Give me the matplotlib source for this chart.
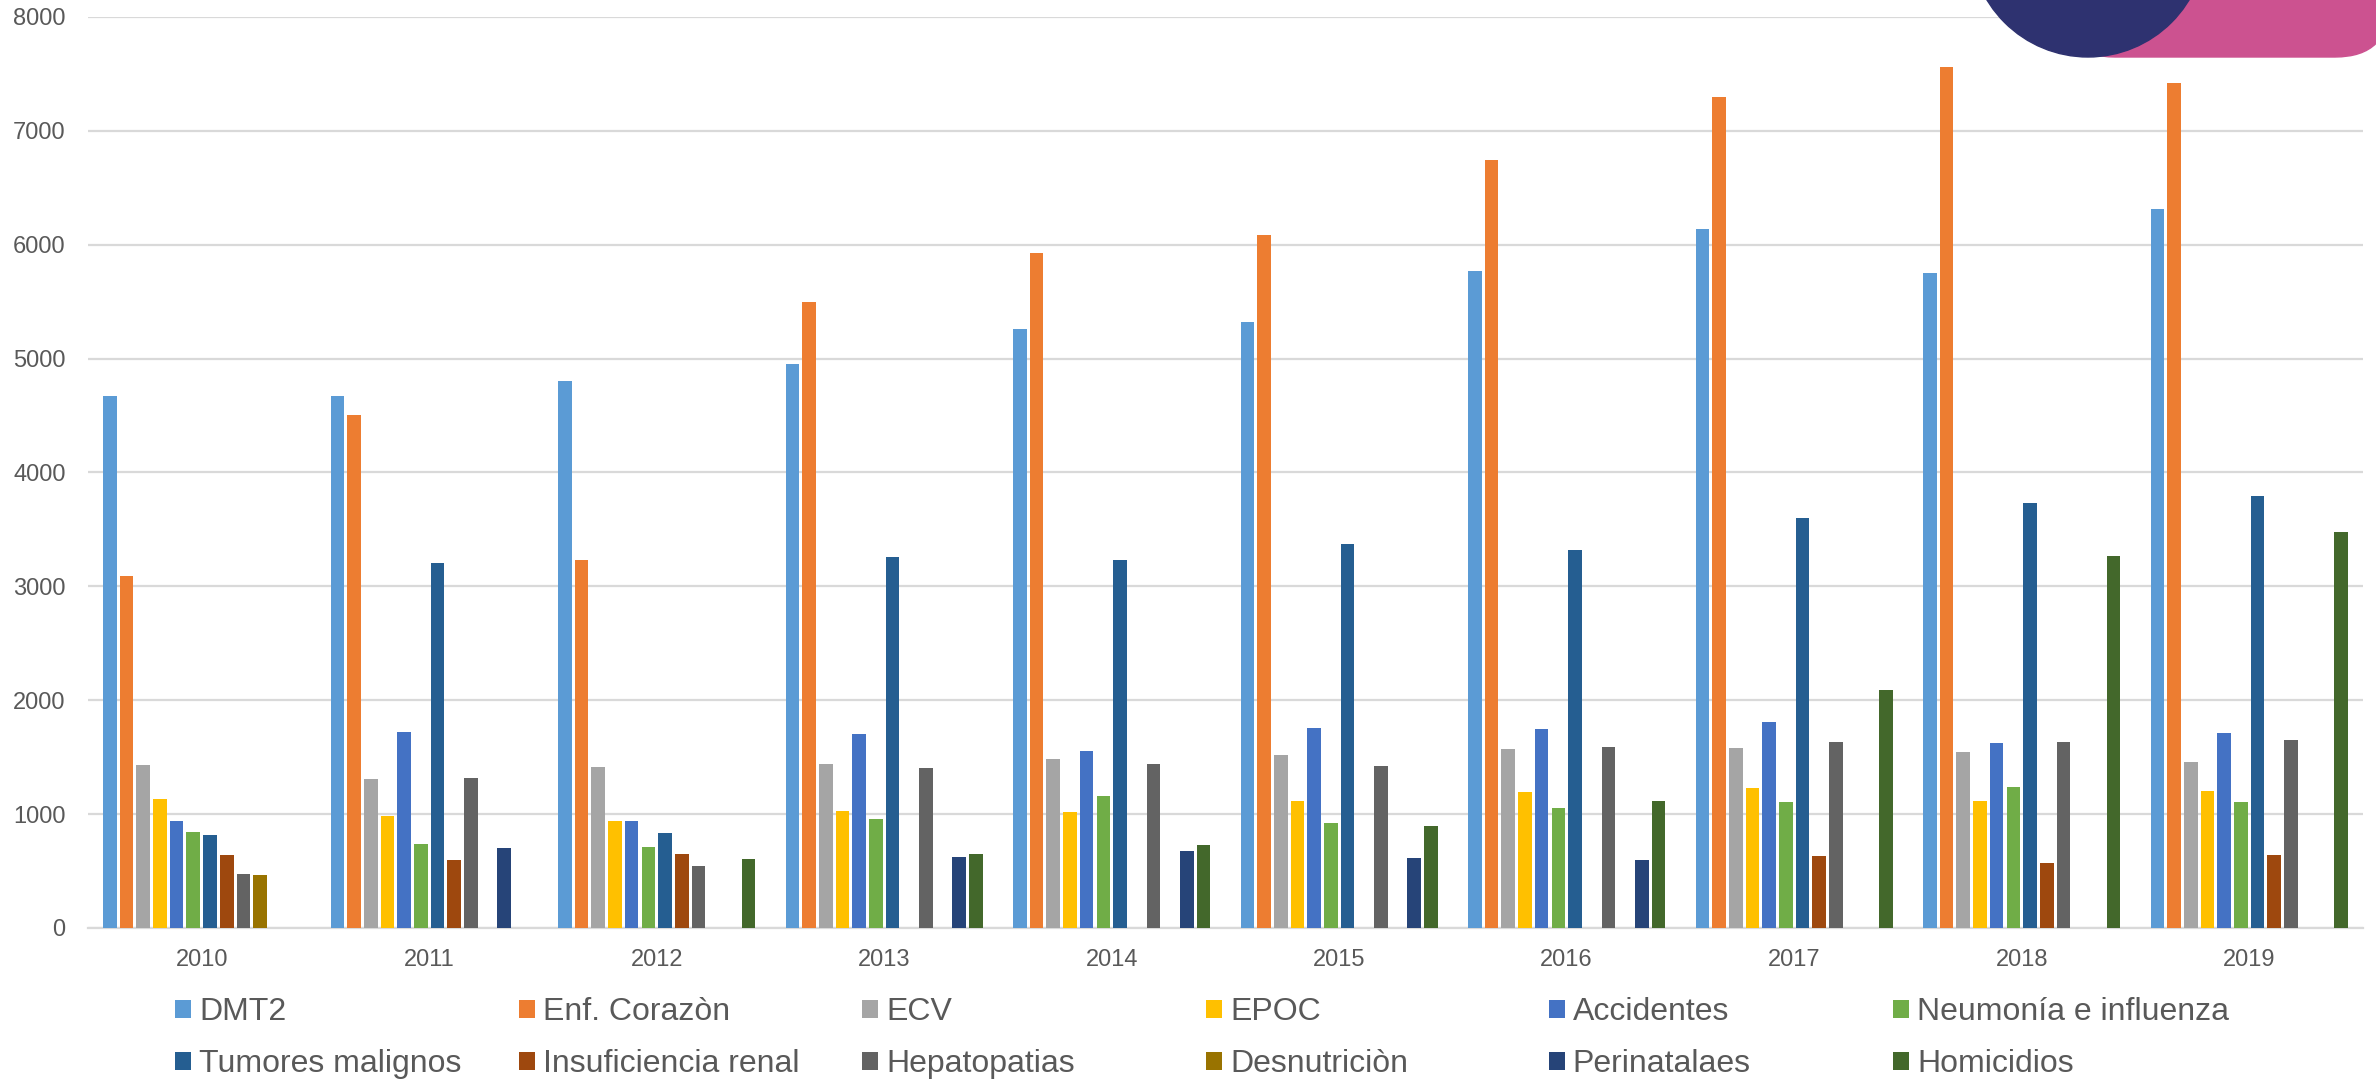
import numpy as np
import matplotlib.pyplot as plt
from matplotlib.patches import Circle, FancyBboxPatch

plt.rcParams['font.family'] = ['Liberation Sans', 'DejaVu Sans']

years = ['2010', '2011', '2012', '2013', '2014', '2015', '2016', '2017', '2018', '2019']

# causas de muerte por año (0 = sin dato en ese año)
dmt2 = [4675, 4667, 4801, 4953, 5263, 5322, 5772, 6140, 5754, 6310]
enf_corazon = [3090, 4506, 3235, 5500, 5930, 6083, 6747, 7296, 7562, 7418]
ecv = [1427, 1310, 1412, 1436, 1483, 1518, 1574, 1582, 1544, 1456]
epoc = [1128, 985, 935, 1023, 1017, 1111, 1190, 1231, 1116, 1204]
accidentes = [941, 1717, 941, 1705, 1556, 1758, 1749, 1805, 1626, 1714]
neumonia = [844, 738, 715, 958, 1158, 920, 1055, 1102, 1240, 1105]
tumores = [818, 3206, 835, 3259, 3229, 3376, 3317, 3601, 3730, 3789]
insuf_renal = [642, 598, 653, 0, 0, 0, 0, 633, 568, 642]
hepatopatias = [475, 1313, 542, 1401, 1442, 1424, 1591, 1632, 1632, 1653]
desnutricion = [469, 0, 0, 0, 0, 0, 0, 0, 0, 0]
perinatales = [0, 703, 0, 624, 674, 615, 595, 0, 0, 0]
homicidios = [0, 0, 607, 645, 730, 897, 1119, 2092, 3264, 3481]

labels = ['DMT2', 'Enf. Corazòn', 'ECV', 'EPOC', 'Accidentes', 'Neumonía e influenza',
          'Tumores malignos', 'Insuficiencia renal', 'Hepatopatias', 'Desnutriciòn',
          'Perinatalaes', 'Homicidios']
series = [dmt2, enf_corazon, ecv, epoc, accidentes, neumonia,
          tumores, insuf_renal, hepatopatias, desnutricion, perinatales, homicidios]
colors = ['#5B9BD5', '#ED7D31', '#A5A5A5', '#FFC000', '#4472C4', '#70AD47',
          '#255E91', '#9E480E', '#636363', '#997300', '#264478', '#43682B']

fig = plt.figure(figsize=(23.76, 10.81), dpi=100)
ax = fig.add_axes([0.037, 0.1416, 0.9575, 0.8427])

x = np.arange(len(years))
step = 0.0733
width = 0.06
handles = []
for j, (vals, col, lab) in enumerate(zip(series, colors, labels)):
    v = np.array(vals, dtype=float)
    v[v == 0] = np.nan
    b = ax.bar(x + (j - 5.5) * step, v, width, color=col, label=lab, zorder=3)
    handles.append(b)

ax.set_xlim(-0.5, len(years) - 0.5)
ax.set_ylim(0, 8000)
ax.set_yticks(range(0, 8001, 1000))
ax.set_xticks(x)
ax.set_xticklabels(years)
ax.yaxis.grid(True, color='#D9D9D9', linewidth=1.6)
ax.set_axisbelow(True)
for s in ['top', 'right', 'left']:
    ax.spines[s].set_visible(False)
ax.spines['bottom'].set_color('#D9D9D9')
ax.spines['bottom'].set_linewidth(1.6)
ax.tick_params(axis='both', length=0, labelsize=17, colors='#595959')
ax.tick_params(axis='y', pad=16)
ax.tick_params(axis='x', pad=15)

# leyenda: 6 columnas x 2 filas, columnas de igual ancho
col_x = [0.0737, 0.2184, 0.3628, 0.5076, 0.6519, 0.7967]
row_y = [0.0638, 0.0157]
for i, (h, lab) in enumerate(zip(handles, labels)):
    fig.legend([h], [lab], loc='center left',
               bbox_to_anchor=(col_x[i % 6], row_y[i // 6]),
               frameon=False, fontsize=23, handlelength=0.5, handleheight=0.5,
               handletextpad=0.25, borderpad=0, borderaxespad=0,
               labelcolor='#595959')

# logo decorativo arriba a la derecha
pink = FancyBboxPatch((20.6, 10.24), 3.3, 1.5, boxstyle='round,pad=0,rounding_size=0.55',
                      transform=fig.dpi_scale_trans, color='#CC5290', zorder=1)
fig.patches.append(pink)
circ = Circle((20.88, 11.42), 1.18, transform=fig.dpi_scale_trans, color='#2E3270', zorder=2)
fig.patches.append(circ)

fig.savefig('out.png', dpi=100)
